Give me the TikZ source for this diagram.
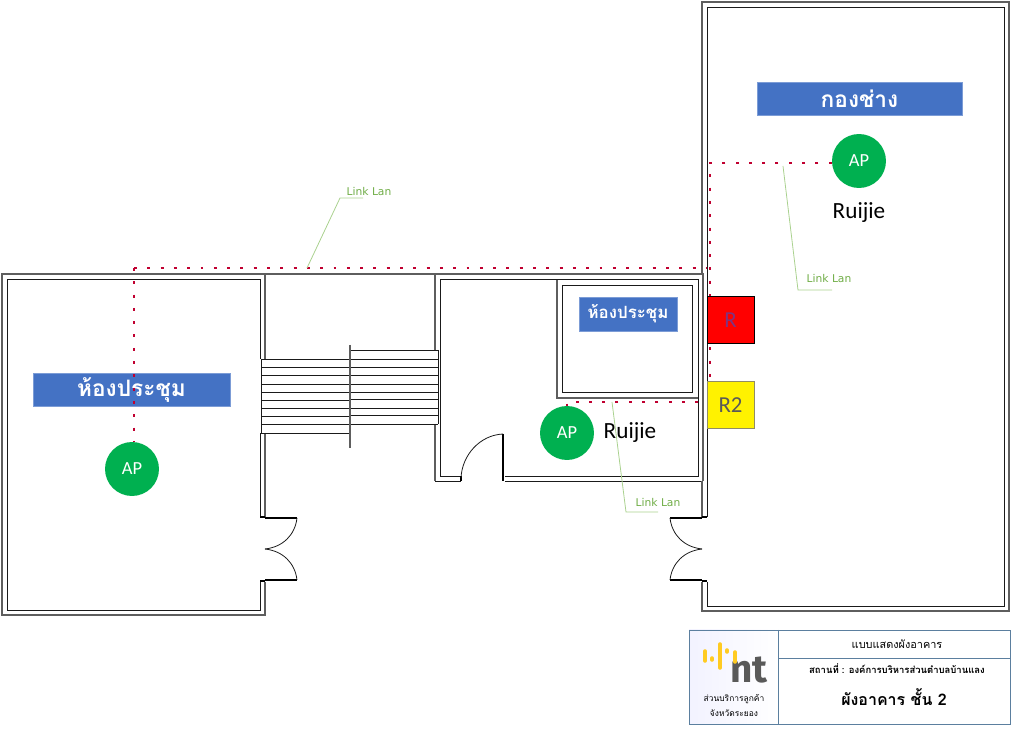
\documentclass[tikz,border=0pt]{standalone}
\usepackage{fontspec}
\setmainfont{Carlito}
\newfontfamily\thaifont[Script=Thai]{Loma}
\newfontfamily\linkfont{DejaVu Sans}
\newfontfamily\logofont{Fira Sans}
\definecolor{walldark}{HTML}{1A1A1A}
\definecolor{wallgray}{HTML}{5E5E5E}
\definecolor{labelblue}{HTML}{4472C4}
\definecolor{apgreen}{HTML}{00B050}
\definecolor{linkred}{HTML}{C00030}
\definecolor{calloutgreen}{HTML}{A9D18E}
\definecolor{linktext}{HTML}{70AD47}
\definecolor{frameblue}{HTML}{5B7F9F}
\definecolor{logoyellow}{HTML}{FFCB22}
\tikzset{
  wallout/.style={wallgray,line width=0.8pt},
  wallin/.style={walldark,line width=0.5pt},
  thin wall/.style={walldark,line width=0.45pt},
  doorbar/.style={black,line width=1.7pt},
  roomlabel/.style={fill=labelblue,draw=labelblue!70!white,line width=0.3pt,text=white,inner sep=0pt,font=\thaifont\bfseries\fontsize{12.9}{13}\selectfont},
  apnode/.style={circle,fill=apgreen,minimum size=1.08cm,inner sep=0pt,text=white,font=\fontsize{10.5}{11}\selectfont},
  brand/.style={font=\fontsize{13.2}{14}\selectfont},
  rackbox/.style={minimum size=0.94cm,inner sep=0pt,line width=0.5pt,font=\fontsize{13}{14}\selectfont},
  lanline/.style={linkred,line width=1.7pt,dash pattern=on 1.7pt off 5.87pt},
  callout/.style={calloutgreen,line width=0.45pt},
  linklabel/.style={text=linktext,inner sep=0pt,font=\linkfont\fontsize{6.1}{7}\selectfont},
  titlebox/.style={frameblue,line width=0.5pt},
  logobar/.style={logoyellow,line width=2pt,line cap=round}
}
\begin{document}
\begin{tikzpicture}[x=0.02cm,y=-0.02cm]
\useasboundingbox (0,0) rectangle (1012,729);
% left room
\draw[wallout] (265,359) -- (265,274) -- (2,274) -- (2,615) -- (265,615) -- (265,582);
\draw[wallout] (265,433) -- (265,517);
\draw[wallin] (260,359) -- (260,279) -- (7,279) -- (7,610) -- (260,610) -- (260,582);
\draw[wallin] (260,433) -- (260,517);
% corridor and middle room
\draw[wallout] (265,274) -- (435,274) -- (435,350);
\draw[wallout] (435,424) -- (435,481);
\draw[wallin] (435,481) -- (461,481);
\draw[wallin] (440,476) -- (440,279) -- (698,279) -- (698,476) -- (505,476);
\draw[wallin] (440,476) -- (461,476);
\draw[wallin] (505,481) -- (703,481);
\draw[wallout] (435,274) -- (703,274) -- (703,481);
% inner room
\draw[wallout] (557,280) -- (557,398) -- (698,398);
\draw[wallin] (562,285) rectangle (692,392);
% right building
\draw[wallout] (702,274) -- (702,2) -- (1009,2) -- (1009,611) -- (702,611) -- (702,582);
\draw[wallout] (702,481) -- (702,517);
\draw[wallin] (707,517) -- (707,7) -- (1004,7) -- (1004,606) -- (707,606) -- (707,582);
% stairs
\foreach \yy in {359,367,375,384,392,400,408,416,424,433}
  \draw[thin wall] (261,\yy) -- (350,\yy);
\foreach \yy in {350,359,367,375,384,392,399,408,415,424}
  \draw[thin wall] (350,\yy) -- (438,\yy);
\draw[thin wall] (261,359) -- (261,433);
\draw[thin wall] (438,350) -- (438,424);
\draw[wallout] (350,345) -- (350,448);
% doors
\draw[doorbar] (265,518) -- (297,518);
\draw[doorbar] (265,580) -- (297,580);
\draw[doorbar] (260,517) -- (265,517);
\draw[doorbar] (260,581) -- (265,581);
\draw[thin wall] (297,518) .. controls (295,535) and (283,547) .. (265,549);
\draw[thin wall] (297,580) .. controls (295,563) and (283,551) .. (265,549);
\draw[doorbar] (670,518) -- (702,518);
\draw[doorbar] (670,580) -- (702,580);
\draw[doorbar] (702,517) -- (707,517);
\draw[doorbar] (702,581) -- (707,581);
\draw[thin wall] (670,518) .. controls (672,535) and (684,547) .. (702,549);
\draw[thin wall] (670,580) .. controls (672,563) and (684,551) .. (702,549);
\draw[doorbar] (503,434) -- (503,481);
\draw[doorbar] (461,476) -- (461,481);
\draw[thin wall] (461,478) .. controls (462,455) and (480,435) .. (503,434);
% labels of the rooms
\node[roomlabel,minimum width=4.1cm,minimum height=0.66cm] (labelchang) at (859.5,98.5) {กองช่าง};
\node[roomlabel,minimum width=1.96cm,minimum height=0.68cm,font=\thaifont\bfseries\fontsize{9.6}{10}\selectfont] (labelmeetb) at (628,314) {ห้องประชุม};
\node[roomlabel,minimum width=3.94cm,minimum height=0.66cm] (labelmeeta) at (131.5,389.5) {ห้องประชุม};
% devices
\node[apnode] (apa) at (859,161) {AP};
\node[apnode] (apb) at (567,433) {AP};
\node[apnode] (apc) at (132,469) {AP};
% lan path
\coordinate (turna) at (710,163);
\coordinate (turnb) at (707,268);
\coordinate (turnc) at (134,268);
\coordinate (turnd) at (710,402);
\coordinate (turne) at (567,402);
\draw[lanline] (turnc) -- (turnb);
\draw[lanline] (turnc) -- (apc.north -| turnc);
\draw[lanline] (turna -| apa.west) -- (turna) -- (turnd) -- (turne) -- (apb.north);
\node[brand] (brandb) at (859,213) {Ruijie};
\node[brand] (brandc) at (630,433) {Ruijie};
\node[rackbox,fill=red,draw=black,text=violet!60!gray] (rackr) at (730.5,320) {R};
\node[rackbox,fill=yellow,draw=gray!70!olive,text=black!65] (rackrr) at (730.5,405) {R2};
% callouts
\node[linklabel] (linka) at (369,192) {Link Lan};
\node[linklabel] (linkb) at (829,279) {Link Lan};
\node[linklabel] (linkc) at (658,503) {Link Lan};
\coordinate (tapa) at (307,268);
\coordinate (tapb) at (783,166);
\coordinate (tapc) at (612,402);
\draw[callout] (tapa) -- (340,198) -- (363,198);
\draw[callout] (tapb) -- (798,290) -- (832,290);
\draw[callout] (tapc) -- (626,512) -- (658,512);
% title block
\shade[left color=blue!5!white,right color=white] (689,630) rectangle (778,724);
\draw[titlebox] (689,630) rectangle (1010,724);
\draw[titlebox] (778,630) -- (778,724);
\draw[titlebox] (778,658) -- (1010,658);
\node[inner sep=0pt,font=\thaifont\fontsize{6.2}{7}\selectfont] (titlea) at (897,644) {แบบแสดงผังอาคาร};
\node[inner sep=0pt,font=\thaifont\bfseries\fontsize{5.4}{6}\selectfont] (titleb) at (897,669) {สถานที่ : องค์การบริหารส่วนตำบลบ้านแลง};
\node[inner sep=0pt,font=\thaifont\bfseries\fontsize{9.1}{10}\selectfont] (titlec) at (894,697) {ผังอาคาร ชั้น 2};
\node[inner sep=0pt,font=\thaifont\fontsize{4.8}{6}\selectfont] (officea) at (734,699) {ส่วนบริการลูกค้า};
\node[inner sep=0pt,font=\thaifont\fontsize{4.8}{6}\selectfont] (officeb) at (734,713) {จังหวัดระยอง};
% logo
\node[inner sep=0pt,text=black!65,font=\logofont\bfseries\fontsize{22}{22}\selectfont] (logont) at (749,670) {nt};
\foreach \xx/\ya/\yb in {705/651/661,712/658/660,720/644/668,727/650/652,735/652/662}
  \draw[logobar] (\xx,\ya) -- (\xx,\yb);
\end{tikzpicture}
\end{document}
